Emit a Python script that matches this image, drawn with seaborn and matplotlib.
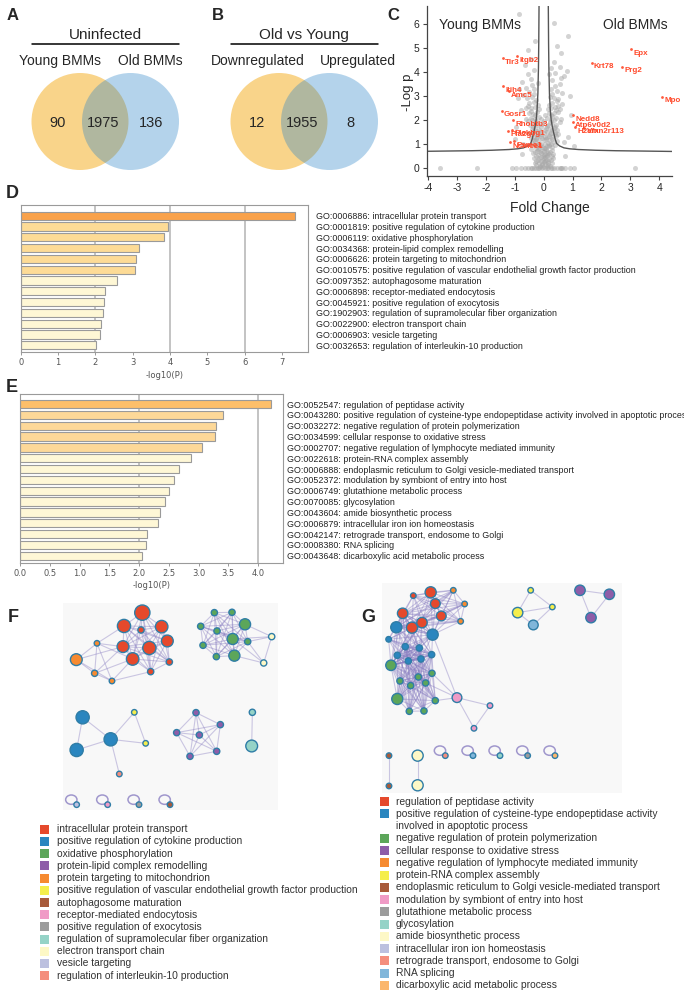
from itertools import combinations

import matplotlib
matplotlib.use("Agg")
import matplotlib.pyplot as plt
import pandas as pd
import seaborn as sns
from matplotlib.collections import LineCollection
from matplotlib.patches import Circle, Ellipse, Rectangle

W, H = 684, 994

# ---------------- A / B : venn counts ----------------
VENN_A_TITLE = "Uninfected"
VENN_A_NAMES = ["Young BMMs", "Old BMMs"]
VENN_A_COUNTS = [90, 1975, 136]
VENN_B_TITLE = "Old vs Young"
VENN_B_NAMES = ["Downregulated", "Upregulated"]
VENN_B_COUNTS = [12, 1955, 8]

# ---------------- C : volcano ----------------
BG_POINTS = [
    (-1.1, 0), (-0.95, 0), (-0.8, 0), (-0.65, 0), (-0.55, 0), (-0.45, 0), (-0.35, 0), (-0.25, 0),
    (-0.15, 0), (-0.05, 0), (0.05, 0), (0.15, 0), (0.25, 0), (0.35, 0), (0.45, 0), (0.55, 0),
    (0.65, 0), (0.75, 0), (0.9, 0), (1.05, 0), (-3.6, 0), (-2.3, 0), (3.15, 0), (-0.4, 0),
    (0.1, 0), (-0.2, 0), (0.3, 0), (0.6, 0),
    (-0.12, 0.05), (0.1, 0.08), (-0.05, 0.12), (0.03, 0.15), (-0.15, 0.2), (0.14, 0.22), (0.0, 0.25),
    (-0.08, 0.3), (0.08, 0.32), (-0.18, 0.35), (0.18, 0.38), (0.02, 0.4), (-0.1, 0.45), (0.12, 0.48),
    (-0.02, 0.52), (-0.2, 0.55), (0.2, 0.58), (0.06, 0.6), (-0.06, 0.18), (0.05, 0.45), (-0.14, 0.1),
    (0.16, 0.12), (-0.03, 0.35), (0.1, 0.55), (-0.01, 0.05), (0.04, 0.28), (-0.09, 0.62),
    (-0.3, 0.65), (-0.22, 0.7), (-0.12, 0.68), (0.0, 0.72), (0.1, 0.7), (0.22, 0.66), (0.3, 0.75),
    (-0.27, 0.82), (-0.15, 0.85), (-0.05, 0.88), (0.06, 0.84), (0.17, 0.9), (0.28, 0.88), (-0.33, 0.95),
    (-0.2, 1.0), (-0.08, 1.02), (0.03, 0.98), (0.14, 1.05), (0.25, 1.0), (0.34, 1.08), (-0.3, 1.12),
    (-0.17, 1.15), (0.0, 1.15), (0.2, 1.18), (-0.4, 1.05), (0.4, 0.95), (-0.45, 0.8), (0.45, 1.12),
    (0.08, 1.2), (-0.25, 1.2),
    (-0.45, 1.25), (-0.35, 1.3), (-0.22, 1.28), (-0.1, 1.32), (0.05, 1.3), (0.18, 1.35), (0.3, 1.28),
    (0.42, 1.32), (-0.5, 1.45), (-0.38, 1.48), (-0.26, 1.42), (-0.12, 1.5), (0.0, 1.45), (0.12, 1.52),
    (0.26, 1.46), (0.38, 1.5), (0.5, 1.42), (-0.42, 1.62), (-0.3, 1.65), (-0.15, 1.6), (0.08, 1.66),
    (0.22, 1.62), (0.35, 1.68), (0.46, 1.6), (-0.48, 1.8), (-0.35, 1.82), (-0.2, 1.78), (-0.05, 1.85),
    (0.15, 1.8), (0.3, 1.85), (0.44, 1.78), (0.55, 1.9), (-0.55, 1.95), (0.02, 1.95), (-0.28, 1.95),
    (0.25, 1.98),
    (-0.6, 2.05), (-0.45, 2.1), (-0.3, 2.05), (-0.15, 2.12), (0.12, 2.08), (0.28, 2.15), (0.42, 2.1),
    (0.6, 2.05), (-0.52, 2.3), (-0.38, 2.25), (-0.22, 2.35), (0.2, 2.3), (0.35, 2.28), (0.5, 2.35),
    (-0.62, 2.5), (-0.45, 2.48), (-0.3, 2.55), (0.25, 2.5), (0.4, 2.55), (0.58, 2.45), (-0.5, 2.7),
    (-0.35, 2.75), (0.3, 2.7), (0.45, 2.78), (0.62, 2.65), (-0.58, 2.9), (-0.4, 2.95), (0.35, 2.92),
    (0.5, 2.88), (-0.25, 2.85), (0.22, 2.95),
    (-0.7, 3.05), (-0.5, 3.15), (-0.32, 3.1), (0.3, 3.08), (0.45, 3.2), (0.65, 3.12), (-0.6, 3.35),
    (-0.4, 3.45), (0.38, 3.4), (0.55, 3.5), (-0.75, 3.6), (-0.45, 3.7), (0.3, 3.65), (0.6, 3.75),
    (-0.55, 3.9), (0.4, 3.95), (0.7, 3.85), (-0.35, 4.1), (0.25, 4.15), (0.55, 4.2), (-0.65, 4.3),
    (0.35, 4.4), (-0.45, 4.55), (0.8, 4.05), (-0.85, 3.3),
    (-0.85, 6.4), (0.35, 6.05), (-0.3, 5.3), (0.45, 5.1), (0.6, 4.8), (-0.55, 4.9), (0.85, 5.5),
    (-0.8, 2.4), (-0.95, 1.7), (0.85, 1.3), (0.95, 2.2), (-1.0, 1.2), (1.05, 0.9), (-0.75, 0.6),
    (0.75, 0.5), (-0.9, 2.9), (0.9, 3.0), (-0.7, 1.0), (0.7, 1.1),
    (-0.25, 0.3), (0.25, 0.35), (-0.28, 0.5), (0.28, 0.5), (-0.16, 0.42), (0.15, 0.3), (-0.07, 0.7),
    (0.07, 0.78), (-0.24, 0.95), (0.2, 0.95), (-0.12, 0.95), (0.1, 0.92), (-0.35, 1.15), (0.3, 1.2),
    (-0.05, 1.25), (0.12, 1.28), (-0.18, 1.38), (0.22, 1.42), (-0.4, 1.4), (0.4, 1.4), (-0.08, 1.4),
    (0.04, 1.58), (-0.25, 1.55), (0.3, 1.58), (-0.38, 1.72), (0.4, 1.72), (-0.1, 1.72), (0.1, 1.74),
    (-0.25, 1.88), (0.22, 1.9), (-0.42, 2.0), (0.35, 2.0), (-0.08, 2.05), (0.05, 2.2), (-0.3, 2.2),
    (0.25, 2.22), (-0.45, 2.38), (0.42, 2.42), (-0.15, 2.45), (0.15, 2.45), (-0.2, 2.62), (0.18, 2.62),
    (-0.55, 2.6), (0.5, 2.6), (-0.35, 3.3), (0.25, 3.3), (-0.2, 3.55), (0.2, 3.9), (-0.25, 0.12),
    (0.22, 0.1), (-0.3, 0.2), (0.3, 0.22), (0.0, 0.85), (0.0, 0.55), (-0.18, 0.8), (0.33, 0.6),
    (-0.36, 0.62), (0.14, 0.62), (-0.32, 0.4), (0.34, 0.42),
]
GENE_NAMES = ["Tlr3", "Itgb2", "Itih4", "Amc5", "Gosr1", "Rhobtb3", "Pla2g7", "Plekhg1",
              "Nsmce1", "Psmc1", "Epx", "Krt78", "Prg2", "Mpo", "Nedd8", "Atp6v0d2",
              "H2afx", "Vmn2r113"]
GENE_FC = [-1.41, -0.93, -1.41, -1.2, -1.45, -1.07, -1.24, -1.08, -1.17, -1.03,
           3.03, 1.66, 2.72, 4.1, 1.03, 1.0, 1.08, 1.4]
GENE_LOGP = [4.58, 4.67, 3.42, 3.2, 2.38, 2.0, 1.55, 1.6, 1.08, 1.12,
             4.95, 4.38, 4.22, 2.97, 2.2, 1.93, 1.7, 1.68]
CURVE_X = [0.16, 0.17, 0.18, 0.2, 0.23, 0.26, 0.3, 0.34, 0.4, 0.45, 0.55, 0.7, 0.9, 1.2,
           1.8, 2.5, 3.5, 4.45]
CURVE_Y = [6.8, 5.2, 4.2, 3.1, 2.4, 2.0, 1.72, 1.5, 1.2, 1.02, 0.92, 0.84, 0.8, 0.77,
           0.74, 0.72, 0.705, 0.69]

# ---------------- D / E : enrichment bars ----------------
D_TERMS = [
    "GO:0006886: intracellular protein transport",
    "GO:0001819: positive regulation of cytokine production",
    "GO:0006119: oxidative phosphorylation",
    "GO:0034368: protein-lipid complex remodelling",
    "GO:0006626: protein targeting to mitochondrion",
    "GO:0010575: positive regulation of vascular endothelial growth factor production",
    "GO:0097352: autophagosome maturation",
    "GO:0006898: receptor-mediated endocytosis",
    "GO:0045921: positive regulation of exocytosis",
    "GO:1902903: regulation of supramolecular fiber organization",
    "GO:0022900: electron transport chain",
    "GO:0006903: vesicle targeting",
    "GO:0032653: regulation of interleukin-10 production",
]
D_VALUES = [7.35, 3.96, 3.85, 3.17, 3.10, 3.06, 2.57, 2.25, 2.24, 2.21, 2.14, 2.12, 2.02]
D_COLORS = ["#F9A24B"] + ["#FDDB96"] * 5 + ["#FEF7D5"] * 7

E_TERMS = [
    "GO:0052547: regulation of peptidase activity",
    "GO:0043280: positive regulation of cysteine-type endopeptidase activity involved in apoptotic process",
    "GO:0032272: negative regulation of protein polymerization",
    "GO:0034599: cellular response to oxidative stress",
    "GO:0002707: negative regulation of lymphocyte mediated immunity",
    "GO:0022618: protein-RNA complex assembly",
    "GO:0006888: endoplasmic reticulum to Golgi vesicle-mediated transport",
    "GO:0052372: modulation by symbiont of entry into host",
    "GO:0006749: glutathione metabolic process",
    "GO:0070085: glycosylation",
    "GO:0043604: amide biosynthetic process",
    "GO:0006879: intracellular iron ion homeostasis",
    "GO:0042147: retrograde transport, endosome to Golgi",
    "GO:0008380: RNA splicing",
    "GO:0043648: dicarboxylic acid metabolic process",
]
E_VALUES = [4.21, 3.42, 3.29, 3.27, 3.06, 2.87, 2.67, 2.58, 2.50, 2.43, 2.35, 2.32, 2.13, 2.12, 2.05]
E_COLORS = ["#FDBF6A"] + ["#FDD898"] * 4 + ["#FEF7D6"] * 10

# ---------------- F / G : term networks ----------------
PAL = {
    "red": "#E5492C", "blue": "#2A86BF", "green": "#5CA65A", "purple": "#8E5DA8",
    "orange": "#F68A30", "yellow": "#F5EE4C", "brown": "#A85A3A", "pink": "#F09BC6",
    "gray": "#9C9C9C", "teal": "#95D3C7", "ltyellow": "#FDF8C6", "lavender": "#BCC0DF",
    "salmon": "#F48E7D", "ltblue": "#80B6DA", "ltorange": "#FBB66C",
}

F_X = [262, 207, 320, 258, 337, 204, 283, 233, 343, 287, 64, 126, 119, 171,
       478, 531, 570, 437, 486, 533, 578, 444, 484, 538, 650, 626,
       83, 167, 65, 238, 272, 193, 423, 496, 365, 433, 485, 405, 592, 590,
       65, 158, 252, 345]
F_Y = [38, 78, 80, 90, 123, 140, 144, 177, 186, 215, 179, 130, 220, 243,
       38, 37, 73, 79, 93, 117, 125, 136, 170, 167, 110, 189,
       352, 418, 450, 337, 430, 522, 338, 374, 398, 405, 454, 469, 337, 438,
       614, 614, 614, 614]
F_R = [22, 19, 18, 9, 17, 17, 19, 18, 9, 9, 17, 8, 9, 8,
       9, 9, 16, 9, 9, 16, 9, 9, 9, 16, 9, 9,
       19, 19, 19, 8, 8, 8, 9, 9, 9, 9, 9, 9, 9, 17,
       8, 8, 8, 8]
F_CAT = ["red"] * 10 + ["orange"] * 4 + ["green"] * 10 + ["ltyellow"] * 2 + \
        ["blue"] * 3 + ["yellow"] * 2 + ["salmon"] + ["purple"] * 6 + ["teal"] * 2 + \
        ["lavender", "pink", "gray", "brown"]
F_CLIQUES = [list(range(0, 10)), list(range(14, 24)), list(range(32, 38))]
F_EDGES = [(10, 11), (10, 12), (10, 13), (11, 12), (12, 13), (11, 13), (11, 5), (11, 7),
           (12, 5), (12, 7), (13, 7), (13, 9), (10, 5), (11, 1),
           (24, 16), (24, 19), (24, 20), (24, 25), (25, 19), (25, 23), (25, 20),
           (26, 27), (26, 28), (27, 28), (27, 29), (27, 30), (29, 30), (27, 31), (38, 39)]
F_LOOPS = [40, 41, 42, 43]

G_X = [167, 115, 181, 83, 199, 111, 141, 235, 269, 257,
       64, 173, 41, 91, 133, 67, 170, 100, 138,
       48, 171, 130, 75, 152, 107, 67, 181, 103, 147,
       246, 345, 297, 467, 428, 532, 475, 615, 703, 648,
       42, 42, 128, 128, 211, 294, 375, 458, 540]
G_Y = [37, 47, 71, 100, 108, 143, 128, 31, 72, 124,
       142, 164, 178, 200, 204, 226, 224, 243, 237,
       256, 280, 291, 303, 309, 317, 357, 362, 394, 393,
       353, 377, 445, 31, 98, 81, 135, 31, 43, 113,
       527, 618, 527, 616, 527, 527, 527, 527, 527]
G_R = [16, 8, 14, 15, 14, 16, 15, 8, 8, 8,
       16, 16, 8, 9, 9, 9, 9, 9, 9,
       15, 9, 9, 9, 9, 9, 16, 9, 9, 9,
       14, 8, 8, 8, 15, 8, 14, 15, 15, 15,
       8, 8, 16, 16, 8, 8, 8, 8, 8]
G_CAT = ["red"] * 7 + ["orange"] * 3 + ["blue"] * 9 + ["green"] * 10 + ["pink"] * 3 + \
        ["yellow"] * 3 + ["ltblue"] + ["purple"] * 3 + ["brown"] * 2 + ["ltyellow"] * 2 + \
        ["salmon", "ltblue", "teal", "gray", "ltorange"]
G_CLIQUES = [list(range(0, 12)), [3, 5, 6, 10, 11, 12, 13, 14, 15, 16, 17, 18, 19],
             list(range(13, 29))]
G_EDGES = [(29, 26), (29, 23), (29, 20), (29, 11), (29, 30), (29, 31), (30, 31),
           (32, 33), (32, 34), (33, 34), (33, 35), (34, 35),
           (36, 37), (36, 38), (37, 38), (39, 40), (41, 42)]
G_LOOPS = [43, 44, 45, 46, 47]

F_LEGEND = [
    ("intracellular protein transport", "red"),
    ("positive regulation of cytokine production", "blue"),
    ("oxidative phosphorylation", "green"),
    ("protein-lipid complex remodelling", "purple"),
    ("protein targeting to mitochondrion", "orange"),
    ("positive regulation of vascular endothelial growth factor production", "yellow"),
    ("autophagosome maturation", "brown"),
    ("receptor-mediated endocytosis", "pink"),
    ("positive regulation of exocytosis", "gray"),
    ("regulation of supramolecular fiber organization", "teal"),
    ("electron transport chain", "ltyellow"),
    ("vesicle targeting", "lavender"),
    ("regulation of interleukin-10 production", "salmon"),
]
G_LEGEND = [
    ("regulation of peptidase activity", "red"),
    ("positive regulation of cysteine-type endopeptidase activity\ninvolved in apoptotic process", "blue"),
    ("negative regulation of protein polymerization", "green"),
    ("cellular response to oxidative stress", "purple"),
    ("negative regulation of lymphocyte mediated immunity", "orange"),
    ("protein-RNA complex assembly", "yellow"),
    ("endoplasmic reticulum to Golgi vesicle-mediated transport", "brown"),
    ("modulation by symbiont of entry into host", "pink"),
    ("glutathione metabolic process", "gray"),
    ("glycosylation", "teal"),
    ("amide biosynthetic process", "ltyellow"),
    ("intracellular iron ion homeostasis", "lavender"),
    ("retrograde transport, endosome to Golgi", "salmon"),
    ("RNA splicing", "ltblue"),
    ("dicarboxylic acid metabolic process", "ltorange"),
]

EDGE_COLOR = "#8A7FC2"
NODE_EDGE = "#2F7DA6"
GO_FONT, GO_SIZE = ["Liberation Sans", "DejaVu Sans"], 6.4

sns.set_style("white")
plt.rcParams["font.family"] = ["Liberation Sans", "DejaVu Sans"]
plt.rcParams["axes.unicode_minus"] = False

fig = plt.figure(figsize=(W / 100, H / 100), dpi=100)


def px_axes(left, top, right, bottom):
    return fig.add_axes([left / W, 1 - bottom / H, (right - left) / W, (bottom - top) / H])


# overlay in pixel coordinates for letters, venns, legends
ov = px_axes(0, 0, W, H)
ov.set_xlim(0, W)
ov.set_ylim(H, 0)
ov.axis("off")

for letter, x, y, fs in [("A", 13, 15, 12), ("B", 218, 15, 12), ("C", 393, 15, 12),
                         ("D", 12, 194, 13), ("E", 12, 388, 13), ("F", 13, 618, 13),
                         ("G", 368, 618, 13)]:
    ov.text(x, y, letter, fontsize=fs, fontweight="bold", ha="center", va="center")


def venn(x0, title, names, counts, name_x):
    ov.text(x0 + 73, 35, title, fontsize=11, ha="center", va="center")
    ov.plot([x0, x0 + 147], [44, 44], color="black", lw=1.1)
    ov.text(name_x[0], 61, names[0], fontsize=10, ha="center", va="center")
    ov.text(name_x[1], 61, names[1], fontsize=10, ha="center", va="center")
    ov.add_patch(Circle((x0 + 48, 121.5), 48.5, facecolor="#F9D48A", edgecolor="none"))
    ov.add_patch(Circle((x0 + 98.5, 121.5), 48.5, facecolor="#2883C8", alpha=0.35,
                        edgecolor="none"))
    for cx, n in zip([x0 + 26, x0 + 71, x0 + 119], counts):
        ov.text(cx, 123, str(n), fontsize=10.5, ha="center", va="center")


venn(32, VENN_A_TITLE, VENN_A_NAMES, VENN_A_COUNTS, [60, 150])
venn(231, VENN_B_TITLE, VENN_B_NAMES, VENN_B_COUNTS, [258, 358])

# ---------------- C ----------------
axc = px_axes(426.6, 5.8, 672.3, 176.4)
bg = pd.DataFrame(BG_POINTS, columns=["fc", "logp"])
sns.scatterplot(data=bg, x="fc", y="logp", s=13, color="#A8A8A8", alpha=0.5,
                linewidth=0, ax=axc)
sns.lineplot(x=CURVE_X, y=CURVE_Y, sort=False, estimator=None, color="#555555", lw=1.0, ax=axc)
sns.lineplot(x=[-v for v in CURVE_X], y=CURVE_Y, sort=False, estimator=None,
             color="#555555", lw=1.0, ax=axc)
genes = pd.DataFrame({"gene": GENE_NAMES, "fc": GENE_FC, "logp": GENE_LOGP})
sns.scatterplot(data=genes, x="fc", y="logp", s=4, color="#FF5A3C", linewidth=0, ax=axc)
for g, fc, lp in zip(GENE_NAMES, GENE_FC, GENE_LOGP):
    axc.text(fc + 0.08, lp - 0.17, g, fontsize=5.8, fontweight="bold", color="#FF4A2C",
             ha="left", va="center")
axc.text(-2.2, 5.96, "Young BMMs", fontsize=10, ha="center", va="center")
axc.text(3.17, 5.96, "Old BMMs", fontsize=10, ha="center", va="center")
axc.set_xlim(-4.05, 4.45)
axc.set_ylim(-0.35, 6.76)
axc.set_xticks(range(-4, 5))
axc.set_yticks(range(0, 7))
axc.set_xlabel("")
axc.set_ylabel("")
for side in ["top", "right"]:
    axc.spines[side].set_visible(False)
for side in ["left", "bottom"]:
    axc.spines[side].set_color("#444444")
    axc.spines[side].set_linewidth(0.9)
axc.tick_params(direction="out", length=3, width=0.8, labelsize=7.5, pad=2,
                color="#444444", bottom=True, left=True)
ov.text(408, 92, "-Log p", fontsize=9.5, rotation=90, ha="center", va="center")
ov.text(550, 208, "Fold Change", fontsize=10, ha="center", va="center")


# ---------------- D / E ----------------
def go_bars(ax, terms, values, colors, xmax, ticks, ticklabels, grid, ylim, pad, labelpad):
    df = pd.DataFrame({"term": terms, "p": values})
    for g in grid:
        ax.axvline(g, color="#BEBEBE", lw=1.3, zorder=0)
    sns.barplot(data=df, x="p", y="term", hue="term", palette=colors, legend=False,
                orient="h", width=0.77, saturation=1, edgecolor="#9A9A9A", linewidth=0.8,
                ax=ax, zorder=2)
    ax.set_xlim(0, xmax)
    ax.set_ylim(*ylim)
    ax.set_xticks(ticks)
    ax.set_xticklabels(ticklabels, fontfamily="DejaVu Sans", fontsize=6, color="#555555")
    ax.yaxis.tick_right()
    ax.tick_params(axis="y", length=0, pad=pad, labelsize=GO_SIZE, labelcolor="#222222")
    ax.tick_params(axis="x", length=2.5, width=0.7, color="#999999", pad=2, bottom=True)
    for lbl in ax.get_yticklabels():
        lbl.set_fontfamily(GO_FONT)
    ax.set_ylabel("")
    ax.set_xlabel("-log10(P)", fontfamily="DejaVu Sans", fontsize=6, color="#555555",
                  labelpad=labelpad)
    for s in ax.spines.values():
        s.set_color("#9A9A9A")
        s.set_linewidth(0.8)


axd = px_axes(20.7, 205, 308, 352)
go_bars(axd, D_TERMS, D_VALUES, D_COLORS, 7.7, range(0, 8), [str(i) for i in range(8)],
        [2, 4, 6], (12.62, -0.99), 5.8, 3)
axe = px_axes(20, 394, 283, 563)
e_ticks = [i * 0.5 for i in range(9)]
go_bars(axe, E_TERMS, E_VALUES, E_COLORS, 4.42, e_ticks, [f"{t:.1f}" for t in e_ticks],
        [2.0, 4.0], (14.67, -0.93), 2.9, 2)


# ---------------- F / G networks ----------------
def network(ax, xs, ys, rs, cats, cliques, edges, loops, xlim, ylim):
    pairs = list(edges)
    for group in cliques:
        pairs += list(combinations(group, 2))
    segs = [[(xs[a], ys[a]), (xs[b], ys[b])] for a, b in pairs]
    ax.add_collection(LineCollection(segs, colors=EDGE_COLOR, linewidths=0.8, alpha=0.42,
                                     zorder=1))
    for i in loops:
        ax.add_patch(Ellipse((xs[i] - 16, ys[i] - 15), 34, 28, fill=False,
                             edgecolor=EDGE_COLOR, lw=1.1, alpha=0.8, zorder=1))
    nodes = pd.DataFrame({"x": xs, "y": ys, "cat": cats})
    sizes = [(0.5 * r) ** 2 for r in rs]
    sns.scatterplot(data=nodes, x="x", y="y", hue="cat", palette=PAL, s=sizes,
                    edgecolor=NODE_EDGE, linewidth=1.0, legend=False, ax=ax, zorder=3)
    ax.set_xlim(*xlim)
    ax.set_ylim(*ylim)
    ax.set_facecolor("#F8F8F8")
    ax.set_xticks([])
    ax.set_yticks([])
    ax.set_xlabel("")
    ax.set_ylabel("")
    for s in ax.spines.values():
        s.set_visible(False)


axf = px_axes(63.3, 603.3, 277.7, 810)
network(axf, F_X, F_Y, F_R, F_CAT, F_CLIQUES, F_EDGES, F_LOOPS, (25, 668), (630, 10))
axg = px_axes(382.3, 583.3, 622, 793.3)
network(axg, G_X, G_Y, G_R, G_CAT, G_CLIQUES, G_EDGES, G_LOOPS, (22, 741), (640, 10))


def legend(items, x_sq, x_txt, y0, step):
    row = 0
    for label, key in items:
        y = y0 + row * step
        ov.add_patch(Rectangle((x_sq, y - 4.5), 9, 9, facecolor=PAL[key], edgecolor="none"))
        for k, line in enumerate(label.split("\n")):
            ov.text(x_txt, y + k * step, line, fontsize=7.4, color="#333333", ha="left",
                    va="center")
        row += len(label.split("\n"))


legend(F_LEGEND, 39.5, 57, 829.3, 12.2)
legend(G_LEGEND, 380, 396, 801.7, 12.25)

fig.savefig("out.png", dpi=100)
